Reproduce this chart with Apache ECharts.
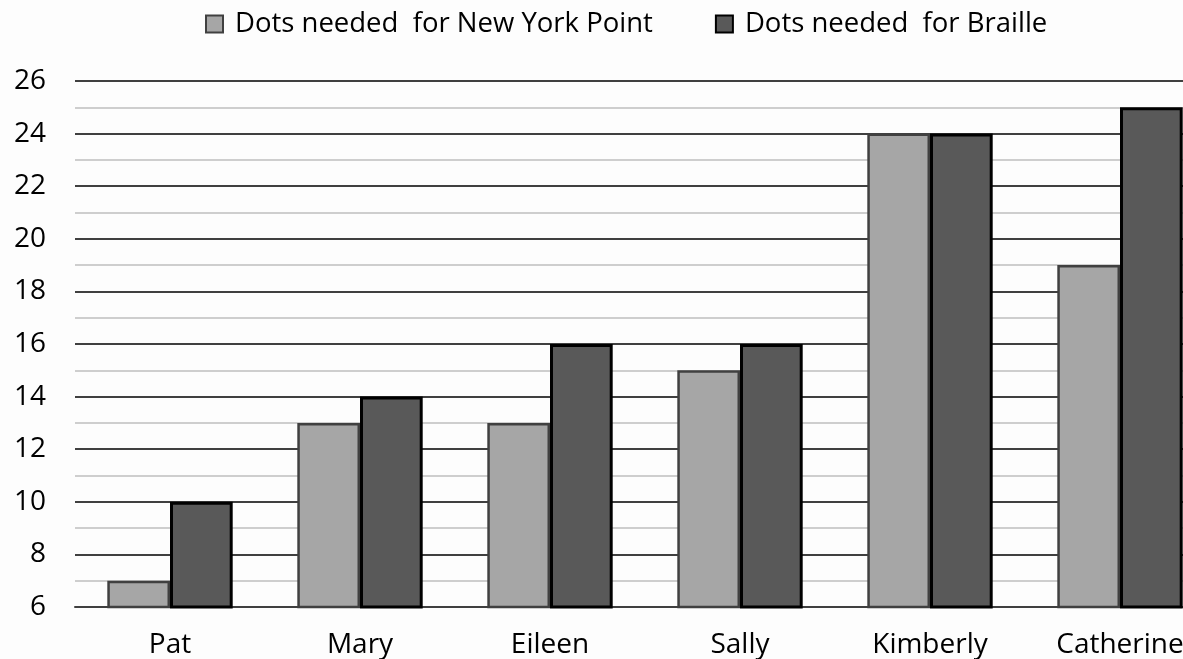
<!DOCTYPE html>
<html>
<head>
<meta charset="utf-8">
<script src="https://cdn.jsdelivr.net/npm/echarts@6/dist/echarts.min.js"></script>
<style>
html,body{margin:0;padding:0;background:#fdfdfd;overflow:hidden;width:1183px;height:659px;}
#c{width:1216px;height:659px;}
</style>
</head>
<body>
<div id="c"></div>
<script>
const categories = ['Pat', 'Mary', 'Eileen', 'Sally', 'Kimberly', 'Catherine'];
const nyPoint = [7, 13, 13, 15, 24, 19];
const braille = [10, 14, 16, 16, 24, 25];
const seriesNames = ['Dots needed  for New York Point', 'Dots needed  for Braille'];
const yMin = 6, yMax = 26, yStep = 2;

const chart = echarts.init(document.getElementById('c'));
const font = '"Open Sans", "DejaVu Sans", sans-serif';
chart.setOption({
  backgroundColor: '#fdfdfd',
  animation: false,
  textStyle: { fontFamily: font },
  legend: {
    top: 5,
    left: 200,
    icon: 'rect',
    itemWidth: 17,
    itemHeight: 17,
    itemGap: 62,
    textStyle: { fontSize: 27.5, color: '#000', fontFamily: font, padding: [0, 0, 0, 7] },
    data: seriesNames
  },
  grid: { left: 75, right: 1, top: 81, bottom: 51, containLabel: false },
  xAxis: {
    type: 'category',
    data: categories,
    axisLine: { show: true, lineStyle: { color: '#404040', width: 2 } },
    axisTick: { show: false },
    axisLabel: { fontSize: 28, color: '#000', margin: 24, fontFamily: font }
  },
  yAxis: {
    type: 'value',
    min: yMin, max: yMax, interval: yStep,
    axisLine: { show: false },
    axisTick: { show: false },
    axisLabel: { fontSize: 28, color: '#000', margin: 29, fontFamily: font },
    splitLine: { show: true, lineStyle: { color: '#404040', width: 2 } },
    minorTick: { show: false, splitNumber: 2 },
    minorSplitLine: { show: true, lineStyle: { color: '#bfbfbf', width: 1.5 } }
  },
  series: [
    {
      name: seriesNames[0], type: 'bar', data: nyPoint,
      barGap: '0%', barCategoryGap: '34%',
      itemStyle: { color: '#a6a6a6', borderColor: '#404040', borderWidth: 2.5 }
    },
    {
      name: seriesNames[1], type: 'bar', data: braille,
      itemStyle: { color: '#595959', borderColor: '#000', borderWidth: 3 }
    }
  ]
});
</script>
</body>
</html>
